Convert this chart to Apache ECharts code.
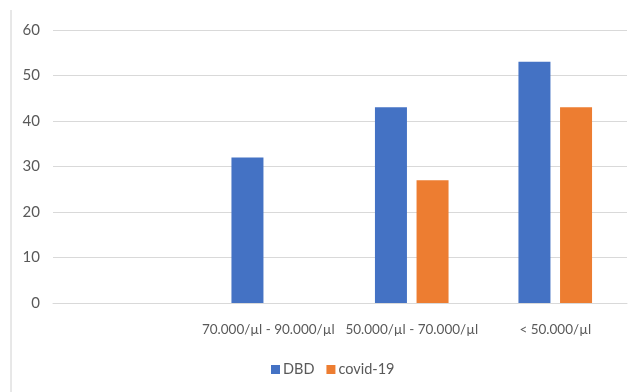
<!DOCTYPE html>
<html>
<head>
<meta charset="utf-8">
<script src="https://cdn.jsdelivr.net/npm/echarts@6/dist/echarts.min.js"></script>
<style>html,body{margin:0;padding:0;background:#fff}#c{width:636px;height:392px}</style>
</head>
<body>
<div id="c"></div>
<script>
const categories = ["", "70.000/µl - 90.000/µl", "50.000/µl - 70.000/µl", "< 50.000/µl"];
const dbdValues = [null, 32, 43, 53];
const covidValues = [null, null, 27, 43];
const yTicks = { min: 0, max: 60, interval: 10 };

const chart = echarts.init(document.getElementById('c'), null, { renderer: 'canvas' });
const font = 'Lato, sans-serif';
chart.setOption({
  animation: false,
  backgroundColor: '#ffffff',
  graphic: [{
    type: 'line',
    shape: { x1: 11, y1: 10, x2: 11, y2: 392 },
    style: { stroke: '#d0d0d0', lineWidth: 1 }
  }],
  grid: { left: 53, right: 9, top: 30, bottom: 89, containLabel: false },
  legend: {
    data: ['DBD', 'covid-19'],
    bottom: 10,
    left: 266,
    itemWidth: 9,
    itemHeight: 9,
    itemGap: 12,
    icon: 'rect',
    textStyle: { color: '#595959', fontSize: 14.5, fontFamily: font, padding: [0, 0, 0, -2] }
  },
  xAxis: {
    type: 'category',
    data: categories,
    axisLine: { lineStyle: { color: '#d9d9d9', width: 1 } },
    axisTick: { show: false },
    axisLabel: { color: '#595959', fontSize: 13.5, fontFamily: font, margin: 20, interval: 0 }
  },
  yAxis: {
    type: 'value',
    min: yTicks.min, max: yTicks.max, interval: yTicks.interval,
    axisLine: { show: false },
    axisTick: { show: false },
    splitLine: { lineStyle: { color: '#d9d9d9', width: 1 } },
    axisLabel: { color: '#595959', fontSize: 15, fontFamily: font, margin: 13 }
  },
  series: [
    { name: 'DBD', type: 'bar', data: dbdValues, barWidth: 32, barGap: '30%', itemStyle: { color: '#4472C4' } },
    { name: 'covid-19', type: 'bar', data: covidValues, barWidth: 32, barGap: '30%', itemStyle: { color: '#ED7D31' } }
  ]
});
</script>
</body>
</html>
